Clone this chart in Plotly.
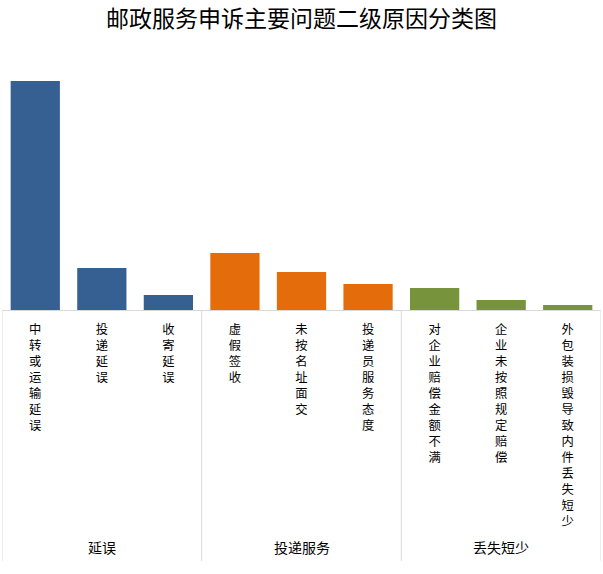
import plotly.graph_objects as go

groups = ["延误", "投递服务", "丢失短少"]
group_sizes = [3, 3, 3]
reasons = ["中转或运输延误", "投递延误", "收寄延误",
           "虚假签收", "未按名址面交", "投递员服务态度",
           "对企业赔偿金额不满", "企业未按照规定赔偿", "外包装损毁导致内件丢失短少"]
values = [45.8, 8.4, 3.0, 11.4, 7.6, 5.2, 4.4, 2.0, 1.0]
group_colors = ["#376092", "#E46C0A", "#77933C"]

bar_colors = []
for c, n in zip(group_colors, group_sizes):
    bar_colors += [c] * n

# vertical text: one character per line
vertical = ["<br>".join(list(r)) for r in reasons]

fig = go.Figure()
fig.add_trace(go.Bar(
    x=reasons,
    y=values,
    marker=dict(color=bar_colors, line=dict(width=0)),
    showlegend=False,
    hoverinfo="skip",
))

# group dividers and group labels below the axis
edge = -0.5
fig.add_shape(type="line", xref="x", yref="paper", x0=edge, x1=edge, y0=0, y1=-0.965,
              line=dict(color="#D9D9D9", width=1))
for g, n in zip(groups, group_sizes):
    fig.add_annotation(x=edge + n / 2, xref="x", y=-0.912, yref="paper", text=g,
                       showarrow=False, yanchor="middle", font=dict(size=14))
    edge += n
    fig.add_shape(type="line", xref="x", yref="paper", x0=edge, x1=edge, y0=0, y1=-0.965,
                  line=dict(color="#D9D9D9", width=1))

fig.update_layout(
    width=603, height=574,
    paper_bgcolor="white", plot_bgcolor="white",
    margin=dict(l=2, r=2, t=50, b=264, autoexpand=False),
    bargap=0.26,
    font=dict(family="Noto Sans CJK SC", size=12, color="black"),
    title=dict(text="邮政服务申诉主要问题二级原因分类图", x=0.5, xanchor="center",
               y=0.967, yanchor="middle",
               font=dict(family="Noto Sans CJK SC", size=23, color="black")),
    xaxis=dict(type="category", tickvals=reasons, ticktext=vertical, tickangle=0,
               showline=True, linecolor="#D9D9D9", linewidth=1, range=[-0.5, 8.5],
               ticks="", tickfont=dict(size=12.3), ticklabelstandoff=8,
               automargin=False),
    yaxis=dict(range=[0, 52], visible=False, showgrid=False),
)

fig.write_html("out.html", config={"displayModeBar": False},
               post_script="document.body.style.margin='0';")
